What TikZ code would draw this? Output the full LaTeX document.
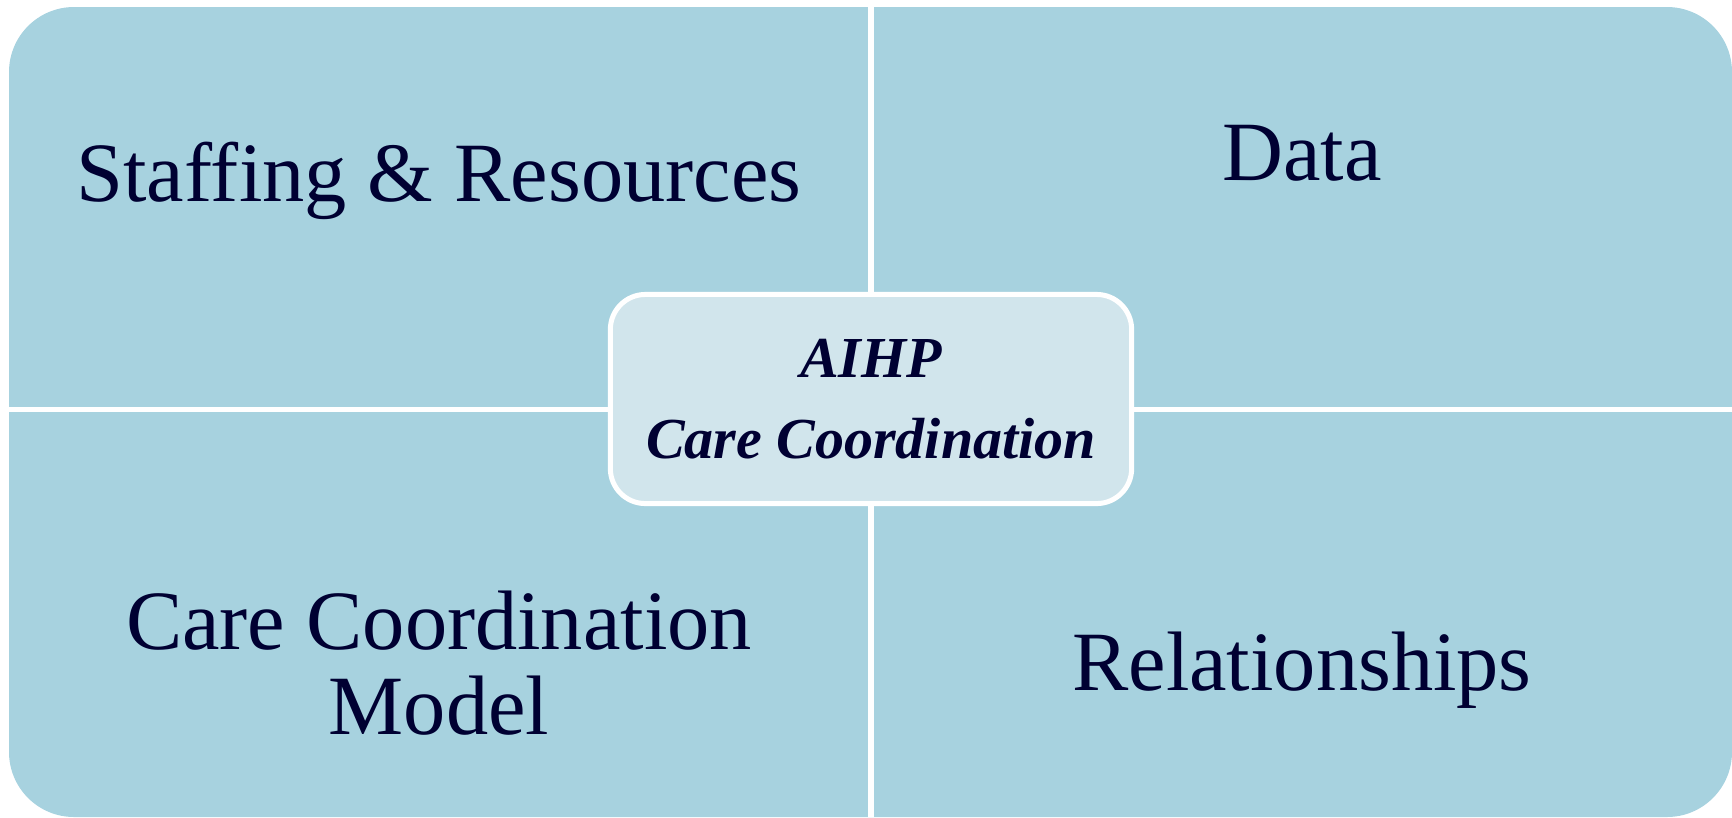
\documentclass[tikz,border=0pt]{standalone}
\usepackage{fontspec}
\setmainfont{Liberation Serif}

\definecolor{quadblue}{RGB}{167,210,223}
\definecolor{hubblue}{RGB}{209,229,236}
\definecolor{inkblue}{RGB}{0,0,50}

\tikzset{
    quadtext/.style={text=inkblue, font=\fontsize{24}{24.2}\selectfont, align=center},
    hubbox/.style={draw=white, line width=0.05cm, fill=hubblue, rounded corners=0.35cm,
        minimum width=5.21cm, minimum height=2.09cm, align=center, text=inkblue,
        font=\fontsize{16.5}{23}\selectfont\bfseries\itshape},
    gapline/.style={white, line width=0.055cm}
}

\begin{document}
\begin{tikzpicture}[x=0.01cm,y=-0.01cm]
    \useasboundingbox (0,0) rectangle (1732,817);
    % background panel
    \fill[quadblue, rounded corners=0.65cm] (9,7) rectangle (1732,817);
    % dividing cross
    \draw[gapline] (871,0) -- (871,817);
    \draw[gapline] (0,409.5) -- (1732,409.5);
    % quadrant labels
    \node[quadtext, anchor=base] (staff) at (439,201) {Staffing \& Resources};
    \node[quadtext, anchor=base] (data) at (1302,180) {Data};
    \node[quadtext] (model) at (439,663) {Care Coordination\\Model};
    \node[quadtext, anchor=base] (rel) at (1302,690) {Relationships};
    % centre box
    \node[hubbox] (hub) at (871,399) {AIHP\\Care Coordination};
\end{tikzpicture}
\end{document}
